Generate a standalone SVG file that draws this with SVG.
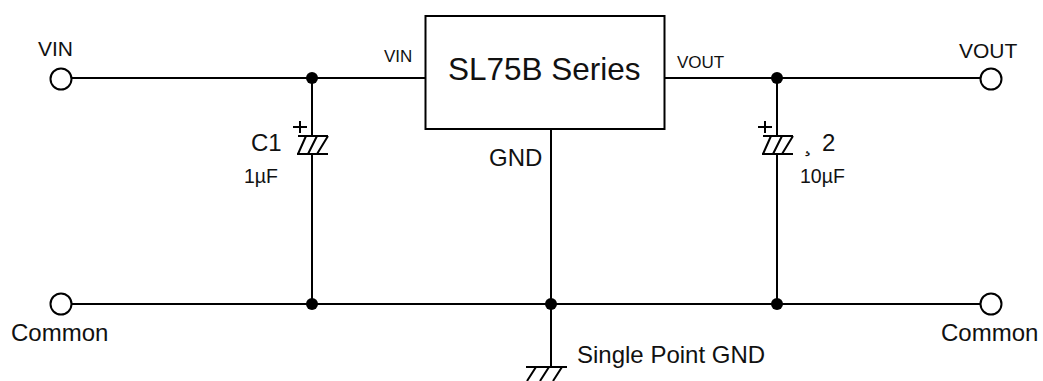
<svg xmlns="http://www.w3.org/2000/svg" width="1043" height="381" viewBox="0 0 1043 381">
<style>
text{font-family:"Liberation Sans",Arial,sans-serif;fill:#111}
.w{fill:none;stroke:#000;stroke-width:2}
.t{fill:#fff;stroke:#000;stroke-width:2}
.d{fill:#000;stroke:none}
.pin{font-size:17px}
.term{font-size:21px}
.lbl{font-size:24px}
.val{font-size:19.500px}
</style>
<defs>
<g id="cap">
<path class="w" d="M-14 0H16M-15 18H16M-6 0L-14 18M5 0L-4 18M16 0L5 18M-19 -9H-5M-12 -15V-3"/>
</g>
</defs>
<rect width="1043" height="381" fill="#fff"/>
<g id="connectors">
<path class="w" d="M71 78H425M665 78H981M312 78V136M312 154V304M777 78V136M777 154V304M71 304H981M551 129V367"/>
<circle class="d" cx="312" cy="78" r="6"/>
<circle class="d" cx="777" cy="78" r="6"/>
<circle class="d" cx="312" cy="304" r="6"/>
<circle class="d" cx="551" cy="304" r="6"/>
<circle class="d" cx="777" cy="304" r="6"/>
</g>
<g id="regulator">
<rect class="w" x="425.500" y="16" width="239" height="113"/>
<text x="448" y="80" font-size="31.500">SL75B Series</text>
<text x="384" y="62" class="pin">VIN</text>
<text x="677" y="68" class="pin">VOUT</text>
<text x="489" y="166" class="lbl">GND</text>
</g>
<g id="terminal-vin">
<circle class="t" cx="61" cy="79" r="10.500"/>
<text x="38" y="56" class="term">VIN</text>
</g>
<g id="terminal-vout">
<circle class="t" cx="991" cy="79" r="10.500"/>
<text x="959" y="58" class="term">VOUT</text>
</g>
<g id="terminal-common-left">
<circle class="t" cx="61" cy="304" r="10.500"/>
<text x="11" y="341" class="lbl">Common</text>
</g>
<g id="terminal-common-right">
<circle class="t" cx="991" cy="304" r="10.500"/>
<text x="941" y="341" class="lbl">Common</text>
</g>
<g id="c1">
<use href="#cap" x="312" y="136"/>
<text x="251" y="151" class="lbl">C1</text>
<text x="244" y="183" class="val">1µF</text>
</g>
<g id="c2">
<use href="#cap" x="777" y="136"/>
<text x="804" y="151" class="lbl">¸</text>
<text x="822" y="151" class="lbl">2</text>
<text x="800" y="183" class="val">10µF</text>
</g>
<g id="ground">
<path class="w" d="M526 367H567M527 381L536 367M540 381L549 367M553 381L562 367"/>
<text x="577" y="363" class="lbl">Single Point GND</text>
</g>
</svg>
